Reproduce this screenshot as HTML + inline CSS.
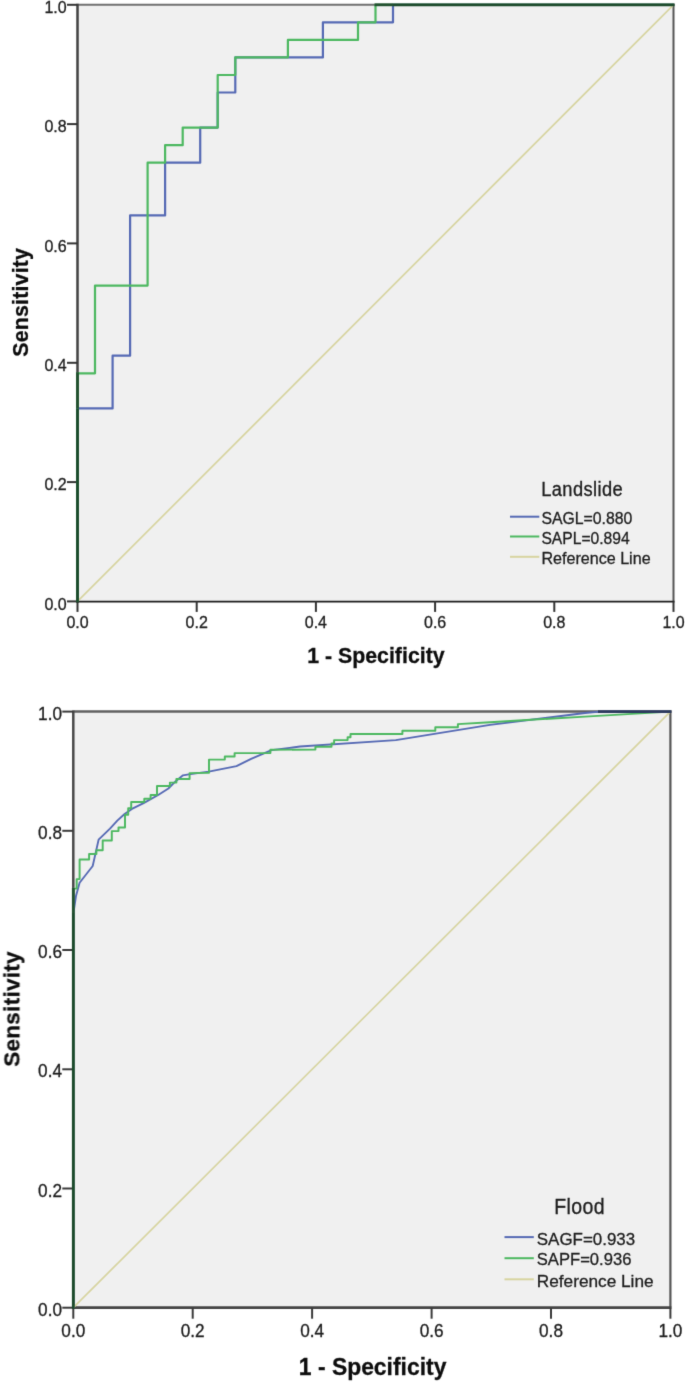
<!DOCTYPE html>
<html><head><meta charset="utf-8"><title>ROC curves</title>
<style>
html,body{margin:0;padding:0;background:#fff;}
body{width:685px;height:1383px;overflow:hidden;}
svg{display:block;font-family:"Liberation Sans",sans-serif;fill:#1c1c1c;}
text{stroke:#1c1c1c;stroke-width:0.3px;}
</style></head><body>
<svg width="685" height="1383" viewBox="0 0 685 1383">
<defs><filter id="soft" x="0" y="0" width="685" height="1383" filterUnits="userSpaceOnUse" color-interpolation-filters="sRGB"><feConvolveMatrix order="3" kernelMatrix="0.0183 0.1353 0.0183 0.1353 1 0.1353 0.0183 0.1353 0.0183" divisor="1.6146" edgeMode="duplicate" preserveAlpha="true"/></filter></defs>
<rect x="0" y="0" width="685" height="1383" fill="#ffffff"/>
<g filter="url(#soft)">
<rect x="0" y="0" width="685" height="1383" fill="#ffffff"/>
<rect x="77.5" y="4.8" width="596.0" height="596.6" fill="#f0f0f0"/>
<line x1="77.5" y1="4.8" x2="674.5" y2="4.8" stroke="#707070" stroke-width="2"/>
<line x1="673.5" y1="3.8" x2="673.5" y2="601.4" stroke="#555555" stroke-width="2"/>
<line x1="77.5" y1="3.8" x2="77.5" y2="602.4" stroke="#414141" stroke-width="2.5"/>
<line x1="76.5" y1="601.6" x2="674.5" y2="601.6" stroke="#1c1c1c" stroke-width="1.8"/>
<line x1="77.5" y1="601.4" x2="77.5" y2="611.9" stroke="#333333" stroke-width="2"/>
<line x1="67.0" y1="601.4" x2="77.5" y2="601.4" stroke="#333333" stroke-width="2"/>
<text transform="translate(77.5,627.5) scale(1,1.03)" text-anchor="middle" font-size="16">0.0</text>
<text transform="translate(66.7,609.6) scale(1,1.03)" text-anchor="end" font-size="16">0.0</text>
<line x1="196.7" y1="601.4" x2="196.7" y2="611.9" stroke="#333333" stroke-width="2"/>
<line x1="67.0" y1="482.1" x2="77.5" y2="482.1" stroke="#333333" stroke-width="2"/>
<text transform="translate(196.7,627.5) scale(1,1.03)" text-anchor="middle" font-size="16">0.2</text>
<text transform="translate(66.7,490.3) scale(1,1.03)" text-anchor="end" font-size="16">0.2</text>
<line x1="315.9" y1="601.4" x2="315.9" y2="611.9" stroke="#333333" stroke-width="2"/>
<line x1="67.0" y1="362.8" x2="77.5" y2="362.8" stroke="#333333" stroke-width="2"/>
<text transform="translate(315.9,627.5) scale(1,1.03)" text-anchor="middle" font-size="16">0.4</text>
<text transform="translate(66.7,371.0) scale(1,1.03)" text-anchor="end" font-size="16">0.4</text>
<line x1="435.1" y1="601.4" x2="435.1" y2="611.9" stroke="#333333" stroke-width="2"/>
<line x1="67.0" y1="243.4" x2="77.5" y2="243.4" stroke="#333333" stroke-width="2"/>
<text transform="translate(435.1,627.5) scale(1,1.03)" text-anchor="middle" font-size="16">0.6</text>
<text transform="translate(66.7,251.6) scale(1,1.03)" text-anchor="end" font-size="16">0.6</text>
<line x1="554.3" y1="601.4" x2="554.3" y2="611.9" stroke="#333333" stroke-width="2"/>
<line x1="67.0" y1="124.1" x2="77.5" y2="124.1" stroke="#333333" stroke-width="2"/>
<text transform="translate(554.3,627.5) scale(1,1.03)" text-anchor="middle" font-size="16">0.8</text>
<text transform="translate(66.7,132.3) scale(1,1.03)" text-anchor="end" font-size="16">0.8</text>
<line x1="673.5" y1="601.4" x2="673.5" y2="611.9" stroke="#333333" stroke-width="2"/>
<line x1="67.0" y1="4.8" x2="77.5" y2="4.8" stroke="#333333" stroke-width="2"/>
<text transform="translate(673.5,627.5) scale(1,1.03)" text-anchor="middle" font-size="16">1.0</text>
<text transform="translate(66.7,13.0) scale(1,1.03)" text-anchor="end" font-size="16">1.0</text>
<line x1="77.5" y1="601.4" x2="673.5" y2="4.8" stroke="#d7d4a0" stroke-width="1.65"/>
<polyline points="77.5,601.4 77.5,408.4 112.6,408.4 112.6,355.7 130.1,355.7 130.1,215.4 165.1,215.4 165.1,162.7 200.2,162.7 200.2,127.6 217.7,127.6 217.7,92.5 235.3,92.5 235.3,57.4 322.9,57.4 322.9,22.3 393.0,22.3 393.0,4.8 673.5,4.8" fill="none" stroke="#5569b4" stroke-width="2.2" stroke-linejoin="round"/>
<polyline points="77.5,601.4 77.5,373.3 95.0,373.3 95.0,285.6 147.6,285.6 147.6,162.7 165.1,162.7 165.1,145.2 182.7,145.2 182.7,127.6 217.7,127.6 217.7,75.0 235.3,75.0 235.3,57.4 287.9,57.4 287.9,39.9 358.0,39.9 358.0,22.3 375.5,22.3 375.5,4.8 673.5,4.8" fill="none" stroke="#4cb860" stroke-width="2.2" stroke-linejoin="round"/>
<line x1="77.5" y1="602.4" x2="77.5" y2="408.38235294117646" stroke="#1b4a2b" stroke-width="2.8"/>
<line x1="77.5" y1="408.38235294117646" x2="77.5" y2="372.2882352941176" stroke="#22502f" stroke-width="2.8"/>
<line x1="374.5" y1="4.8" x2="393.02941176470586" y2="4.8" stroke="#22502f" stroke-width="2.8"/>
<line x1="393.02941176470586" y1="4.8" x2="674.5" y2="4.8" stroke="#1b4a2b" stroke-width="2.8"/>
<text transform="translate(375.9,663.4) scale(1,1.04)" text-anchor="middle" font-size="21.33" font-weight="bold" fill="#0c0c0c" stroke-width="0.15">1 - Specificity</text>
<text transform="translate(27.6,302.3) rotate(-90)" text-anchor="middle" font-size="21.33" font-weight="bold" fill="#0c0c0c" stroke-width="0.15" letter-spacing="0.2">Sensitivity</text>
<text transform="translate(541.2,495.6) scale(0.98,1.08)" font-size="18.67" letter-spacing="0.4" stroke-width="0.12">Landslide</text>
<line x1="510" y1="516.7" x2="539.3" y2="516.7" stroke="#5569b4" stroke-width="2"/>
<text x="541.4" y="524.1" font-size="16" textLength="91.0" lengthAdjust="spacingAndGlyphs">SAGL=0.880</text>
<line x1="510" y1="536.5" x2="539.3" y2="536.5" stroke="#4cb860" stroke-width="2"/>
<text x="541.4" y="543.7" font-size="16" textLength="88.3" lengthAdjust="spacingAndGlyphs">SAPL=0.894</text>
<line x1="510" y1="556.8" x2="539.3" y2="556.8" stroke="#d7d4a0" stroke-width="2"/>
<text x="541.4" y="563.8" font-size="16" textLength="109.2" lengthAdjust="spacingAndGlyphs">Reference Line</text>
<rect x="73.3" y="711.6" width="597.1" height="596.1" fill="#f0f0f0"/>
<line x1="73.3" y1="711.6" x2="671.4" y2="711.6" stroke="#606060" stroke-width="2.5"/>
<line x1="670.4" y1="710.6" x2="670.4" y2="1307.7" stroke="#555555" stroke-width="2.2"/>
<line x1="73.3" y1="710.6" x2="73.3" y2="1308.7" stroke="#484848" stroke-width="2.5"/>
<line x1="72.3" y1="1307.7" x2="671.4" y2="1307.7" stroke="#444444" stroke-width="2.7"/>
<line x1="73.3" y1="1307.7" x2="73.3" y2="1318.7" stroke="#3a3a3a" stroke-width="2"/>
<line x1="62.3" y1="1307.7" x2="73.3" y2="1307.7" stroke="#3a3a3a" stroke-width="2"/>
<text transform="translate(73.3,1336.5) scale(1,1.06)" text-anchor="middle" font-size="17.2">0.0</text>
<text transform="translate(62.0,1315.7) scale(1,1.06)" text-anchor="end" font-size="17.2">0.0</text>
<line x1="192.7" y1="1307.7" x2="192.7" y2="1318.7" stroke="#3a3a3a" stroke-width="2"/>
<line x1="62.3" y1="1188.5" x2="73.3" y2="1188.5" stroke="#3a3a3a" stroke-width="2"/>
<text transform="translate(192.7,1336.5) scale(1,1.06)" text-anchor="middle" font-size="17.2">0.2</text>
<text transform="translate(62.0,1196.5) scale(1,1.06)" text-anchor="end" font-size="17.2">0.2</text>
<line x1="312.1" y1="1307.7" x2="312.1" y2="1318.7" stroke="#3a3a3a" stroke-width="2"/>
<line x1="62.3" y1="1069.3" x2="73.3" y2="1069.3" stroke="#3a3a3a" stroke-width="2"/>
<text transform="translate(312.1,1336.5) scale(1,1.06)" text-anchor="middle" font-size="17.2">0.4</text>
<text transform="translate(62.0,1077.3) scale(1,1.06)" text-anchor="end" font-size="17.2">0.4</text>
<line x1="431.6" y1="1307.7" x2="431.6" y2="1318.7" stroke="#3a3a3a" stroke-width="2"/>
<line x1="62.3" y1="950.0" x2="73.3" y2="950.0" stroke="#3a3a3a" stroke-width="2"/>
<text transform="translate(431.6,1336.5) scale(1,1.06)" text-anchor="middle" font-size="17.2">0.6</text>
<text transform="translate(62.0,958.0) scale(1,1.06)" text-anchor="end" font-size="17.2">0.6</text>
<line x1="551.0" y1="1307.7" x2="551.0" y2="1318.7" stroke="#3a3a3a" stroke-width="2"/>
<line x1="62.3" y1="830.8" x2="73.3" y2="830.8" stroke="#3a3a3a" stroke-width="2"/>
<text transform="translate(551.0,1336.5) scale(1,1.06)" text-anchor="middle" font-size="17.2">0.8</text>
<text transform="translate(62.0,838.8) scale(1,1.06)" text-anchor="end" font-size="17.2">0.8</text>
<line x1="670.4" y1="1307.7" x2="670.4" y2="1318.7" stroke="#3a3a3a" stroke-width="2"/>
<line x1="62.3" y1="711.6" x2="73.3" y2="711.6" stroke="#3a3a3a" stroke-width="2"/>
<text transform="translate(670.4,1336.5) scale(1,1.06)" text-anchor="middle" font-size="17.2">1.0</text>
<text transform="translate(62.0,719.6) scale(1,1.06)" text-anchor="end" font-size="17.2">1.0</text>
<line x1="73.3" y1="1307.7" x2="670.4" y2="711.6" stroke="#d7d4a0" stroke-width="1.65"/>
<polyline points="73.3,1307.7 73.3,913.0 73.8,910.5 76.0,896.0 79.6,882.8 92.7,866.0 98.6,839.7 110.0,828.6 117.3,820.6 124.6,814.0 131.9,808.9 143.6,803.1 158.2,795.0 168.4,788.5 175.7,781.2 183.0,775.3 188.8,774.3 197.6,773.1 208.8,771.6 236.5,766.2 251.1,758.9 262.8,753.8 271.5,750.1 287.6,748.2 300.0,746.5 395.8,740.1 490.0,724.8 585.0,713.0 600.0,711.6 670.4,711.6" fill="none" stroke="#5569b4" stroke-width="1.85" stroke-linejoin="round"/>
<polyline points="73.3,1307.7 73.3,888.6 76.7,888.6 76.7,879.1 79.6,879.1 79.6,859.4 89.1,859.4 89.1,853.9 96.4,853.9 96.4,850.2 102.7,850.2 102.7,840.4 111.8,840.4 111.8,831.1 118.5,831.1 118.5,827.4 125.0,827.4 125.0,814.7 128.2,814.7 128.2,808.2 131.2,808.2 131.2,801.9 144.3,801.9 144.3,798.7 150.6,798.7 150.6,795.0 157.0,795.0 157.0,786.0 169.9,786.0 169.9,782.6 176.4,782.6 176.4,779.0 189.6,779.0 189.6,773.1 209.0,772.8 209.0,759.6 224.8,759.6 224.8,756.4 234.6,756.4 234.6,753.1 270.4,753.1 270.4,749.7 315.4,749.6 315.4,746.7 331.5,746.7 331.5,743.5 334.1,743.5 334.1,740.1 347.6,740.1 347.6,737.2 350.5,737.2 350.5,734.0 402.4,734.0 402.4,730.7 435.3,730.7 435.3,727.3 457.9,727.3 457.9,724.1 490.0,722.2 585.0,716.6 670.4,711.6" fill="none" stroke="#4cb860" stroke-width="1.95" stroke-linejoin="round"/>
<line x1="73.3" y1="1308.7" x2="73.3" y2="913" stroke="#1b4a2b" stroke-width="2.8"/>
<line x1="73.3" y1="913" x2="73.3" y2="888" stroke="#22502f" stroke-width="2.8"/>
<line x1="598" y1="711.6" x2="671.4" y2="711.6" stroke="#2c3a5e" stroke-width="2.8"/>
<text transform="translate(372.6,1375.1) scale(1,1.07)" text-anchor="middle" font-size="22.9" font-weight="bold" fill="#0c0c0c" stroke-width="0.15">1 - Specificity</text>
<text transform="translate(19.4,1009.0) rotate(-90)" text-anchor="middle" font-size="22.5" font-weight="bold" fill="#0c0c0c" stroke-width="0.15" letter-spacing="0.27">Sensitivity</text>
<text transform="translate(554.2,1213.5) scale(0.97,1.06)" font-size="20.1" letter-spacing="0.4" stroke-width="0.12">Flood</text>
<line x1="504.5" y1="1237.1" x2="533.8" y2="1237.1" stroke="#5569b4" stroke-width="2"/>
<text x="536.8" y="1244.5" font-size="17.1" textLength="98.4" lengthAdjust="spacingAndGlyphs">SAGF=0.933</text>
<line x1="504.5" y1="1258.2" x2="533.8" y2="1258.2" stroke="#4cb860" stroke-width="2"/>
<text x="536.8" y="1264.9" font-size="17.1" textLength="94.6" lengthAdjust="spacingAndGlyphs">SAPF=0.936</text>
<line x1="504.5" y1="1279.3" x2="533.8" y2="1279.3" stroke="#d7d4a0" stroke-width="2"/>
<text x="536.8" y="1286.7" font-size="17.1" textLength="116.8" lengthAdjust="spacingAndGlyphs">Reference Line</text>
</g>
</svg>
</body></html>
